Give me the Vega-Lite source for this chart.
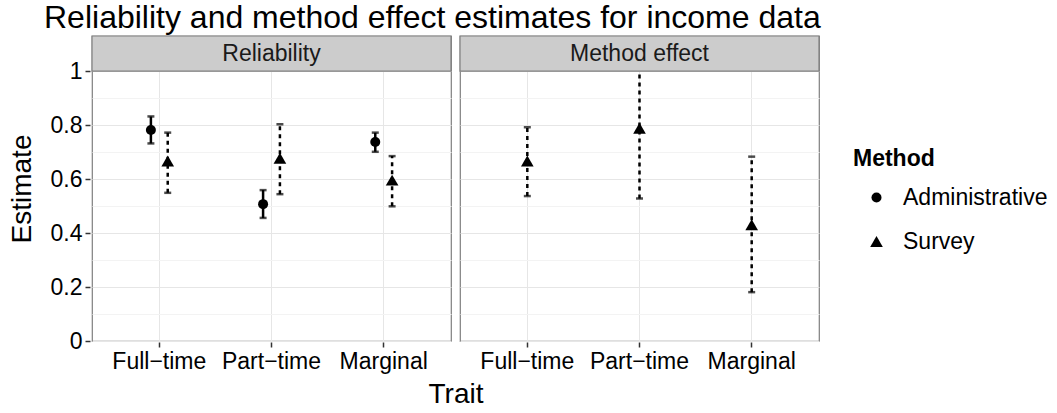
{
  "$schema": "https://vega.github.io/schema/vega-lite/v6.json",
  "background": "white",
  "padding": {"left": 8, "top": 1, "right": 0, "bottom": 0},
  "title": {"text": "Reliability and method effect estimates for income data", "anchor": "start", "frame": "group", "dx": -48, "fontSize": 32, "font": "Liberation Sans", "fontWeight": "normal", "color": "black", "offset": 0},
  "data": {
    "values": [
      {"panel": "Reliability", "Trait": "Full−time", "Method": "Administrative", "est": 0.782, "lower": 0.732, "upper": 0.832},
      {"panel": "Reliability", "Trait": "Full−time", "Method": "Survey", "est": 0.667, "lower": 0.549, "upper": 0.772},
      {"panel": "Reliability", "Trait": "Part−time", "Method": "Administrative", "est": 0.507, "lower": 0.456, "upper": 0.559},
      {"panel": "Reliability", "Trait": "Part−time", "Method": "Survey", "est": 0.677, "lower": 0.544, "upper": 0.803},
      {"panel": "Reliability", "Trait": "Marginal", "Method": "Administrative", "est": 0.737, "lower": 0.701, "upper": 0.772},
      {"panel": "Reliability", "Trait": "Marginal", "Method": "Survey", "est": 0.596, "lower": 0.499, "upper": 0.685},
      {"panel": "Method effect", "Trait": "Full−time", "Method": "Survey", "est": 0.667, "lower": 0.537, "upper": 0.792},
      {"panel": "Method effect", "Trait": "Part−time", "Method": "Survey", "est": 0.788, "lower": 0.528, "upper": 1.04},
      {"panel": "Method effect", "Trait": "Marginal", "Method": "Survey", "est": 0.431, "lower": 0.181, "upper": 0.683}
    ]
  },
  "config": {
    "font": "Liberation Sans",
    "view": {"stroke": "#7f7f7f", "strokeWidth": 1.2},
    "axis": {"labelFontSize": 23, "titleFontSize": 28, "titleFontWeight": "normal", "labelColor": "black", "titleColor": "black", "tickColor": "#333333", "tickSize": 5, "tickWidth": 1.5, "gridColor": "#e6e6e6", "gridWidth": 1, "domain": false, "labelPadding": 3},
    "legend": {"titleFontSize": 23, "titleFontWeight": "bold", "titleColor": "black", "labelFontSize": 23, "labelColor": "black", "rowPadding": 20, "titlePadding": 15, "labelOffset": 15, "symbolOffset": 12, "symbolFillColor": "black", "symbolStrokeColor": "black"}
  },
  "facet": {"column": {"field": "panel", "type": "nominal", "sort": ["Reliability", "Method effect"], "header": {"title": "Trait", "titleOrient": "bottom", "labels": false, "titleFontSize": 28, "titleFontWeight": "normal", "titleColor": "black", "titlePadding": -2}}},
  "spacing": 5,
  "resolve": {"scale": {"xOffset": "independent"}},
  "spec": {
    "width": 359,
    "height": 305,
    "resolve": {"axis": {"y": "independent"}},
    "layer": [
      {
        "mark": {"type": "rule", "color": "black", "strokeWidth": 2.5, "clip": true},
        "encoding": {
          "x": {"field": "Trait", "type": "nominal", "sort": ["Full−time", "Part−time", "Marginal"], "scale": {"type": "band", "paddingInner": 0.7, "paddingOuter": 0.45}, "axis": {"title": null, "bandPosition": 0.5, "labelAngle": 0, "grid": true}},
          "xOffset": {"field": "Method", "type": "nominal", "sort": ["Administrative", "Survey"]},
          "y": {"field": "lower", "type": "quantitative", "scale": {"domain": [0, 1.13], "nice": false, "zero": false}, "axis": {"title": "Estimate", "values": [0, 0.2, 0.4, 0.6, 0.8, 1], "format": "~g", "grid": true, "titlePadding": 14}},
          "y2": {"field": "upper"},
          "strokeDash": {"condition": {"test": "datum.Method === 'Survey'", "value": [4, 4]}, "value": [1, 0]}
        }
      },
      {
        "transform": [{"filter": "datum.upper <= 1"}],
        "mark": {"type": "tick", "color": "black", "size": 7, "thickness": 2.5},
        "encoding": {
          "x": {"field": "Trait", "type": "nominal", "sort": ["Full−time", "Part−time", "Marginal"]},
          "xOffset": {"field": "Method", "type": "nominal", "sort": ["Administrative", "Survey"]},
          "y": {"field": "upper", "type": "quantitative", "axis": null}
        }
      },
      {
        "mark": {"type": "tick", "color": "black", "size": 7, "thickness": 2.5},
        "encoding": {
          "x": {"field": "Trait", "type": "nominal", "sort": ["Full−time", "Part−time", "Marginal"]},
          "xOffset": {"field": "Method", "type": "nominal", "sort": ["Administrative", "Survey"]},
          "y": {"field": "lower", "type": "quantitative", "axis": {"orient": "right", "values": [0.1, 0.3, 0.5, 0.7, 0.9], "grid": true, "gridColor": "#f3f3f3", "labels": false, "ticks": false, "domain": false, "title": null}}
        }
      },
      {
        "mark": {"type": "point", "filled": true, "color": "black", "opacity": 1},
        "encoding": {
          "x": {"field": "Trait", "type": "nominal", "sort": ["Full−time", "Part−time", "Marginal"]},
          "xOffset": {"field": "Method", "type": "nominal", "sort": ["Administrative", "Survey"]},
          "y": {"field": "est", "type": "quantitative", "axis": null},
          "size": {"field": "Method", "type": "nominal", "scale": {"domain": ["Administrative", "Survey"], "range": [100, 160]}, "legend": {"title": "Method", "orient": "none", "legendX": 761, "legendY": 112}},
          "shape": {"field": "Method", "type": "nominal", "scale": {"domain": ["Administrative", "Survey"], "range": ["circle", "triangle-up"]}, "legend": {"title": "Method", "orient": "none", "legendX": 761, "legendY": 112}}
        }
      },
      {
        "transform": [{"aggregate": [{"op": "count", "as": "n"}], "groupby": ["panel"]}],
        "mark": {"type": "rect", "fill": "#cccccc", "stroke": "#7f7f7f", "strokeWidth": 1.2},
        "encoding": {
          "y": {"datum": 1, "type": "quantitative", "axis": null},
          "y2": {"datum": 1.13}
        }
      },
      {
        "transform": [{"aggregate": [{"op": "count", "as": "n"}], "groupby": ["panel"]}],
        "mark": {"type": "text", "fontSize": 23, "color": "#1a1a1a"},
        "encoding": {
          "y": {"datum": 1.065, "type": "quantitative", "axis": null},
          "text": {"field": "panel", "type": "nominal"}
        }
      }
    ]
  }
}
